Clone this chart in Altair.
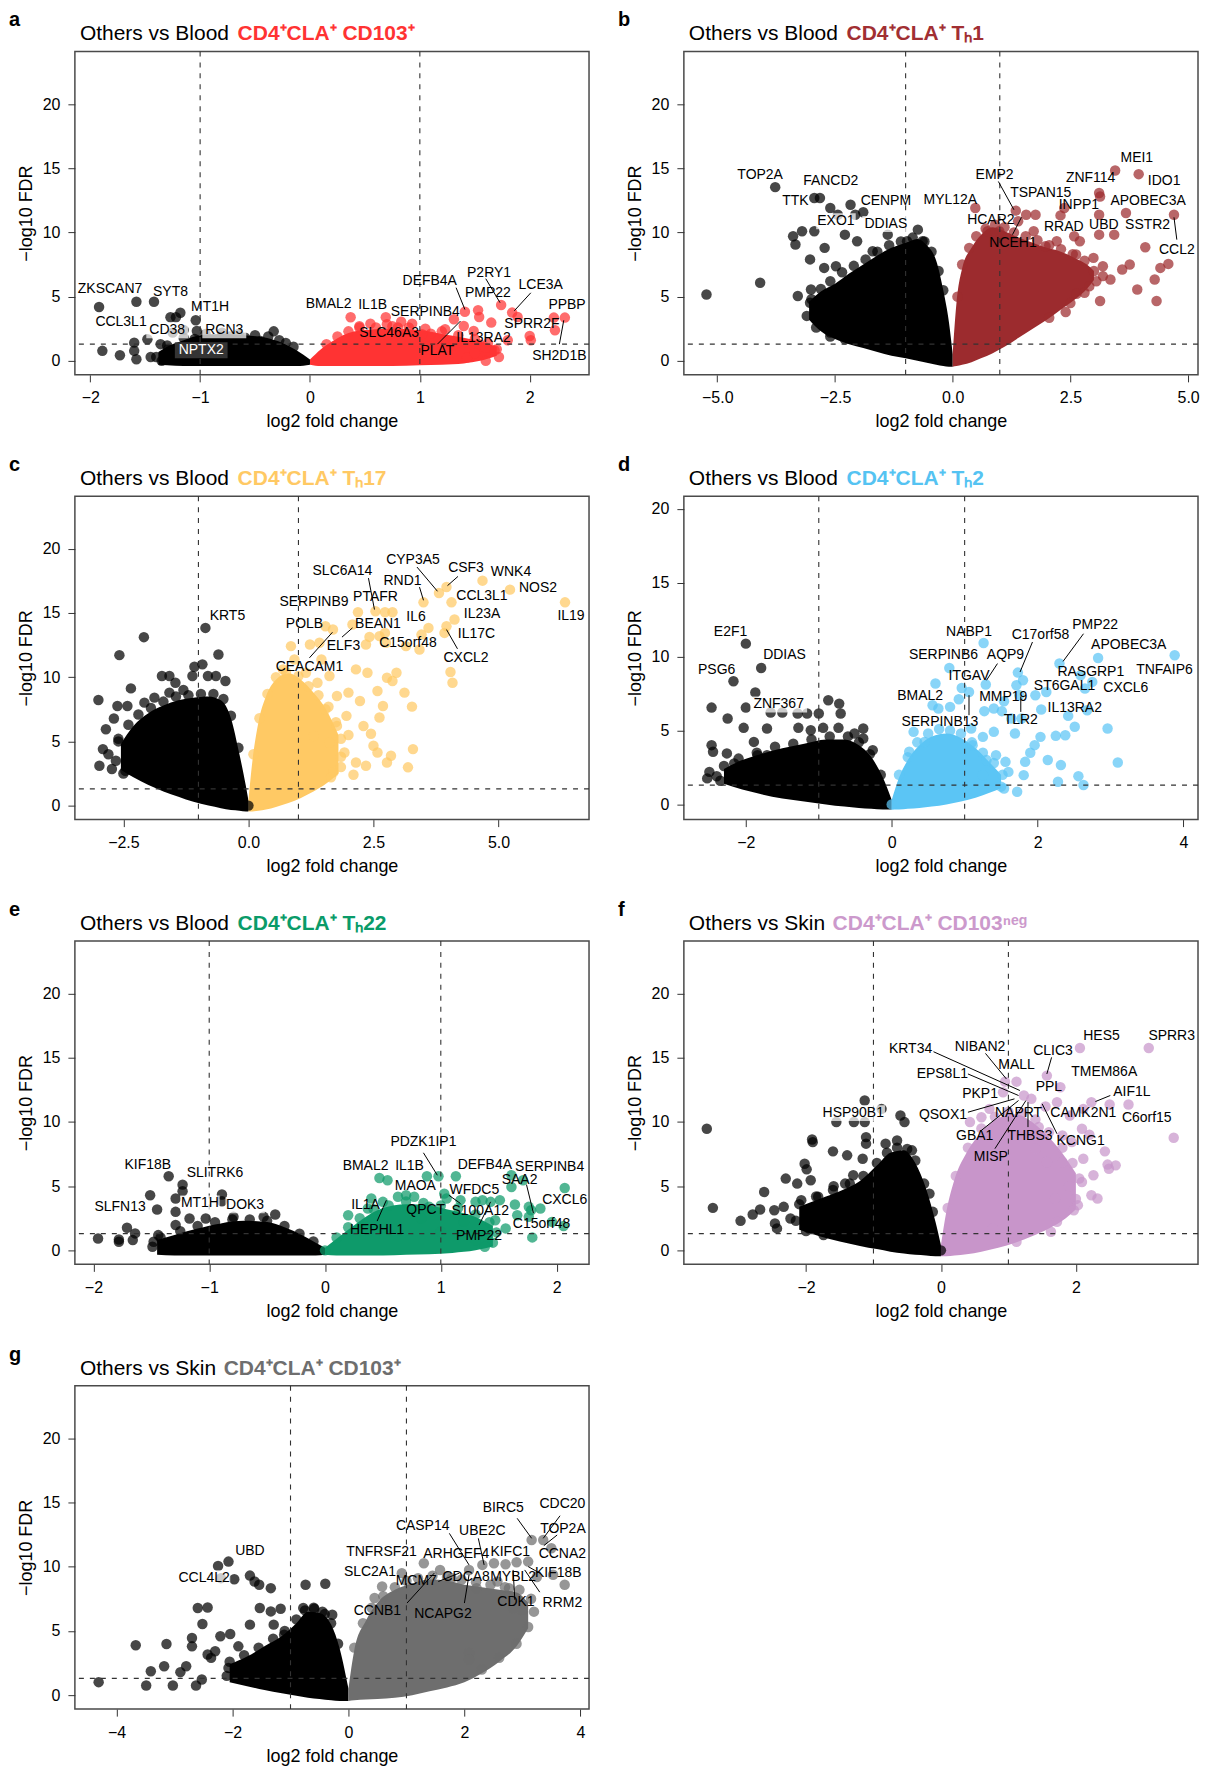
import altair as alt
import pandas as pd

FONT = "Liberation Sans"

# ---------------- panel a ----------------
A_NEG_CORE = [(-1.38, -0.3, 0.7), (-1.3, -0.35, 1.1), (-1.15, -0.4, 1.6), (-1.0, -0.4, 2.0), (-0.8, -0.4, 2.1),
              (-0.6, -0.4, 2.0), (-0.4, -0.4, 1.8), (-0.25, -0.4, 1.4), (-0.12, -0.4, 0.8), (0.0, -0.3, 0.1)]
A_POS_CORE = [(0.0, -0.3, 0.1), (0.1, -0.4, 0.9), (0.2, -0.4, 1.5), (0.3, -0.4, 2.0), (0.5, -0.4, 2.4), (0.75, -0.4, 2.5),
              (1.0, -0.35, 2.4), (1.2, -0.3, 2.1), (1.4, -0.2, 1.8), (1.55, 0.0, 1.5), (1.7, 0.4, 1.1)]
A_NEG_EDGE = [(-1.3, 1.2), (-1.15, 1.8), (-0.95, 2.1), (-0.8, 2.2), (-0.65, 2.1), (-0.5, 2.0), (-0.38, 1.9),
              (-0.28, 1.6), (-0.15, 1.1), (-1.4, 0.3), (-1.35, 0.0)]
A_POS_EDGE = [(0.15, 1.3), (0.25, 1.9), (0.35, 2.3), (0.45, 2.6), (0.6, 2.6), (0.75, 2.7), (0.9, 2.6), (1.05, 2.5),
              (1.2, 2.3), (1.35, 2.0), (1.5, 1.7), (1.62, 1.4), (1.7, 0.9), (1.72, 0.3), (1.6, 0.0)]
A_NEG_PTS = [(-1.92, 4.2), (-1.58, 4.6), (-1.42, 4.6), (-1.89, 0.78), (-1.73, 0.44), (-1.60, 1.42), (-1.48, 1.68),
             (-1.60, 0.78), (-1.58, 0.13), (-1.45, 0.3), (-1.36, 1.3), (-1.27, 3.4), (-1.22, 3.4), (-1.18, 3.75),
             (-1.04, 3.16), (-1.03, 2.33), (-1.05, 1.7), (-0.33, 2.3), (-0.22, 1.4), (-0.73, 1.9), (-0.59, 1.8),
             (-0.45, 1.55), (-1.18, 0.5), (-1.29, 0.9), (-1.12, 0.8), (-1.25, 2.2), (-1.15, 2.4)]
A_POS_PTS = [(0.37, 3.4), (0.69, 3.4), (0.83, 3.05), (0.93, 2.9), (0.70, 2.85), (1.31, 3.24), (1.41, 3.83), (1.53, 3.94),
             (1.54, 3.42), (1.65, 2.98), (1.74, 4.35), (1.84, 3.76), (1.89, 3.42), (2.22, 3.37), (2.32, 3.37),
             (2.23, 2.38), (2.0, 1.94), (2.01, 1.6), (1.68, 0.83), (1.54, 1.3), (1.23, 2.46), (1.10, 2.12),
             (1.43, 0.26), (1.6, 1.04), (1.49, 2.33), (1.40, 2.72), (1.02, 2.07), (0.55, 2.9), (0.45, 2.7),
             (0.8, 2.6), (1.3, 1.2), (1.8, 1.6), (1.5, 0.6)]
A_LABELS = [("ZKSCAN7", -1.82, 5.57), ("SYT8", -1.27, 5.36), ("MT1H", -0.91, 4.2), ("CCL3L1", -1.72, 3.03),
            ("CD38", -1.30, 2.38), ("RCN3", -0.78, 2.38), ("BMAL2", 0.17, 4.4), ("IL1B", 0.57, 4.35),
            ("SERPINB4", 1.05, 3.83), ("DEFB4A", 1.09, 6.2), ("P2RY1", 1.63, 6.87), ("PMP22", 1.62, 5.26),
            ("LCE3A", 2.10, 5.88), ("PPBP", 2.34, 4.35), ("SPRR2F", 2.02, 2.85), ("SLC46A3", 0.72, 2.2),
            ("IL13RA2", 1.58, 1.81), ("PLAT", 1.16, 0.78), ("SH2D1B", 2.27, 0.39)]
A_WHITE = [("NPTX2", -0.99, 0.83)]
A_BOXES = [(-1.49, -1.11, 1.76, 3.0), (-0.98, -0.58, 1.76, 3.0)]
A_DARK_BOXES = [(-1.23, -0.75, 0.2, 1.45)]
A_LINES = [(1.33, 5.7, 1.41, 4.0), (1.60, 6.4, 1.73, 4.53), (2.01, 5.3, 1.86, 3.9), (2.27, 1.3, 2.31, 3.16),
           (1.16, 1.3, 1.37, 3.1)]

# ---------------- panel b ----------------
B_NEG_CORE = [(-3.05, 3.2, 4.6), (-2.8, 2.3, 5.4), (-2.5, 1.7, 6.0), (-2.2, 1.3, 6.8), (-1.9, 1.0, 7.5), (-1.6, 0.7, 8.2),
              (-1.3, 0.4, 8.8), (-1.0, 0.2, 9.2), (-0.75, 0.0, 9.5), (-0.55, -0.15, 9.0), (-0.35, -0.3, 7.8),
              (-0.2, -0.4, 5.5), (-0.08, -0.45, 3.0), (0.0, -0.45, 0.5)]
B_POS_CORE = [(0.0, -0.45, 0.5), (0.08, -0.4, 4.5), (0.2, -0.3, 7.2), (0.4, -0.1, 8.8), (0.6, 0.2, 9.8), (0.85, 0.6, 10.4),
              (1.1, 1.1, 10.1), (1.4, 1.8, 9.6), (1.7, 2.5, 9.2), (2.0, 3.2, 8.8), (2.3, 4.0, 8.5), (2.6, 4.8, 8.0),
              (2.85, 5.6, 7.5), (3.0, 6.3, 7.0)]
B_NEG_EDGE = [(-3.0, 4.8), (-2.8, 5.6), (-2.6, 6.2), (-2.35, 6.9), (-2.1, 7.4), (-1.85, 7.9), (-1.6, 8.5), (-1.35, 9.0),
              (-1.1, 9.3), (-0.85, 9.6), (-0.6, 9.3), (-0.45, 8.5), (-0.3, 7.0), (-0.2, 5.5), (-3.1, 3.5),
              (-2.9, 2.6), (-2.6, 1.9)]
B_POS_EDGE = [(0.1, 5.0), (0.2, 7.5), (0.35, 8.8), (0.5, 9.7), (0.7, 10.3), (0.9, 10.6), (1.1, 10.4), (1.3, 10.0),
              (1.55, 9.7), (1.8, 9.4), (2.05, 9.0), (2.3, 8.7), (2.55, 8.3), (2.8, 7.8), (3.0, 7.0), (3.05, 6.2),
              (2.8, 5.3), (2.5, 4.5)]
B_NEG_PTS = [(-5.23, 5.17), (-4.09, 6.08), (-3.77, 13.53), (-2.94, 12.68), (-2.82, 12.68), (-2.60, 11.9), (-2.17, 12.16),
             (-1.90, 11.57), (-3.39, 9.7), (-3.34, 9.06), (-3.20, 10.1), (-2.94, 10.1), (-3.03, 7.9), (-2.72, 8.8),
             (-2.73, 7.24), (-3.29, 5.05), (-3.01, 5.56), (-3.03, 4.53), (-2.79, 2.98), (-2.29, 1.68), (-2.48, 7.37),
             (-2.29, 9.83), (-2.03, 9.31), (-1.70, 8.54), (-1.38, 9.83), (-0.74, 10.22), (-0.97, 9.31), (-0.64, 9.31),
             (-2.44, 11.38), (-2.07, 11.38), (-2.6, 2.2), (-2.2, 2.0)]
B_POS_PTS = [(0.48, 11.9), (1.34, 11.7), (1.56, 11.38), (1.76, 11.38), (1.72, 10.1), (1.39, 10.87), (0.74, 10.1),
             (2.29, 11.33), (2.37, 11.9), (2.58, 9.7), (2.70, 9.31), (2.21, 9.31), (3.11, 13.07), (3.13, 12.8),
             (3.11, 11.38), (3.45, 14.83), (3.95, 14.54), (3.68, 11.51), (4.70, 11.38), (4.09, 8.85), (3.43, 9.83),
             (3.11, 9.83), (2.99, 8.02), (3.19, 7.37), (3.35, 6.34), (3.60, 7.11), (3.76, 7.5), (3.92, 5.56),
             (4.29, 6.34), (4.41, 7.24), (4.58, 7.55), (4.33, 4.66), (3.13, 4.66), (2.63, 5.23), (3.19, 6.6),
             (2.05, 3.36), (1.97, 8.93), (2.62, 8.28), (0.99, 10.1), (1.15, 9.57), (2.4, 3.8), (2.9, 5.8)]
B_LABELS = [("TOP2A", -4.09, 14.44), ("FANCD2", -2.59, 14.02), ("TTK", -3.34, 12.42), ("CENPM", -1.42, 12.47),
            ("EXO1", -2.48, 10.87), ("DDIAS", -1.42, 10.66), ("MYL12A", -0.05, 12.55), ("EMP2", 0.89, 14.49),
            ("TSPAN15", 1.87, 13.07), ("ZNF114", 2.93, 14.23), ("MEI1", 3.91, 15.78), ("IDO1", 4.49, 14.02),
            ("INPP1", 2.68, 12.11), ("APOBEC3A", 4.15, 12.42), ("HCAR2", 0.81, 11.0), ("RRAD", 2.36, 10.45),
            ("UBD", 3.21, 10.56), ("SSTR2", 4.14, 10.61), ("NCEH1", 1.28, 9.18), ("CCL2", 4.76, 8.67)]
B_WHITE = []
B_BOXES = [(-2.9, -2.06, 10.25, 11.5), (-1.92, -0.92, 10.04, 11.28)]
B_DARK_BOXES = []
B_LINES = [(0.97, 13.97, 1.30, 11.77), (1.46, 11.18, 1.27, 9.83), (4.70, 11.18, 4.76, 9.44)]

# ---------------- panel c ----------------
C_NEG_CORE = [(-2.55, 2.8, 4.8), (-2.3, 2.2, 6.2), (-2.0, 1.6, 7.2), (-1.7, 1.1, 7.8), (-1.4, 0.7, 8.2), (-1.1, 0.3, 8.4),
              (-0.8, 0.0, 8.5), (-0.55, -0.2, 8.2), (-0.35, -0.35, 6.8), (-0.18, -0.4, 4.0), (-0.05, -0.45, 1.5),
              (0.0, -0.45, 0.4)]
C_POS_CORE = [(0.0, -0.45, 0.4), (0.08, -0.45, 3.5), (0.2, -0.4, 6.5), (0.35, -0.3, 8.5), (0.55, -0.1, 9.8),
              (0.8, 0.2, 10.3), (1.05, 0.6, 9.8), (1.3, 1.1, 8.8), (1.55, 1.7, 7.5), (1.8, 2.5, 5.5)]
C_NEG_EDGE = [(-2.6, 5.0), (-2.4, 6.3), (-2.2, 7.1), (-1.95, 7.6), (-1.7, 8.1), (-1.45, 8.5), (-1.2, 8.6), (-0.95, 8.7),
              (-0.7, 8.7), (-0.5, 8.3), (-0.35, 7.0), (-0.2, 4.5), (-2.65, 3.5), (-2.5, 2.5)]
C_POS_EDGE = [(0.1, 4.0), (0.22, 6.8), (0.38, 8.7), (0.55, 10.0), (0.75, 10.4), (1.0, 10.1), (1.2, 9.3), (1.4, 8.6),
              (1.6, 7.7), (1.75, 6.5), (1.85, 5.2), (1.85, 3.8), (1.7, 2.6)]
C_NEG_PTS = [(-3.0, 8.23), (-2.98, 3.1), (-2.91, 4.4), (-2.85, 5.95), (-2.73, 2.85), (-2.69, 6.78), (-2.58, 11.72),
             (-2.62, 7.76), (-2.46, 2.72), (-2.35, 9.13), (-2.42, 7.76), (-2.09, 13.12), (-2.08, 8.02), (-1.88, 8.41),
             (-1.73, 10.09), (-1.58, 10.09), (-1.46, 9.57), (-1.58, 8.80), (-1.08, 10.82), (-0.86, 13.84),
             (-0.6, 11.77), (-0.92, 11.0), (-0.81, 10.09), (-0.65, 10.09), (-0.46, 9.7), (-1.12, 10.09),
             (-2.8, 4.0), (-2.6, 5.2), (-1.3, 9.0), (0.0, 0.0)]
C_POS_PTS = [(0.85, 12.42), (1.23, 12.55), (1.42, 12.68), (1.69, 13.71), (1.54, 13.97), (2.19, 15.06), (2.08, 14.1),
             (2.54, 15.14), (2.73, 15.06), (2.88, 15.06), (2.42, 13.14), (2.62, 13.2), (2.73, 13.45), (2.75, 12.68),
             (2.35, 12.55), (3.5, 15.83), (3.81, 16.56), (3.96, 17.02), (4.06, 15.83), (4.68, 17.52), (5.23, 16.82),
             (6.33, 15.83), (3.6, 13.84), (4.12, 14.49), (3.96, 13.97), (3.92, 13.45), (3.46, 13.32), (3.42, 12.16),
             (3.15, 12.42), (4.04, 10.4), (4.08, 9.57), (2.77, 9.96), (2.96, 10.35), (2.88, 9.7), (3.12, 8.8),
             (3.27, 7.71), (2.58, 8.93), (2.38, 10.35), (2.15, 10.61), (2.69, 7.76), (2.62, 6.86), (2.23, 8.15),
             (1.96, 6.99), (1.77, 6.21), (3.29, 4.4), (3.19, 2.98), (2.85, 3.88), (2.77, 3.36), (2.58, 4.14),
             (2.5, 4.66), (2.35, 3.1), (2.15, 3.36), (1.92, 4.14), (1.62, 10.09), (1.38, 9.57), (1.15, 10.35),
             (1.46, 11.38), (0.92, 11.38), (0.69, 10.61), (1.77, 8.54), (1.54, 7.5), (1.31, 5.43), (1.62, 4.92),
             (2.0, 5.5), (2.3, 6.2), (1.85, 3.0), (2.1, 2.4), (1.65, 2.2), (2.0, 8.8), (2.45, 5.6)]
C_LABELS = [("KRT5", -0.42, 14.8), ("SERPINB9", 1.31, 15.83), ("SLC6A14", 1.88, 18.24), ("CYP3A5", 3.29, 19.1),
            ("CSF3", 4.35, 18.5), ("WNK4", 5.25, 18.19), ("RND1", 3.08, 17.52), ("NOS2", 5.79, 16.95),
            ("PTAFR", 2.54, 16.25), ("CCL3L1", 4.67, 16.35), ("IL23A", 4.67, 14.95), ("IL19", 6.45, 14.75),
            ("POLB", 1.12, 14.18), ("BEAN1", 2.59, 14.15), ("IL6", 3.35, 14.7), ("IL17C", 4.56, 13.38),
            ("C15orf48", 3.19, 12.68), ("ELF3", 1.9, 12.42), ("CXCL2", 4.35, 11.51), ("CEACAM1", 1.22, 10.82)]
C_WHITE = []
C_BOXES = []
C_DARK_BOXES = []
C_LINES = [(2.4, 17.72, 2.52, 15.27), (3.37, 18.58, 3.78, 16.69), (4.19, 17.85, 3.98, 17.13), (3.42, 17.02, 3.5, 15.99),
           (4.18, 12.21, 3.96, 13.71), (1.22, 11.51, 1.68, 13.5), (1.87, 13.12, 2.08, 13.84)]

# ---------------- panel d ----------------
D_NEG_CORE = [(-2.3, 1.4, 2.4), (-2.05, 1.0, 3.0), (-1.8, 0.7, 3.4), (-1.5, 0.4, 3.8), (-1.2, 0.2, 4.1), (-0.9, 0.0, 4.4),
              (-0.65, -0.15, 4.4), (-0.45, -0.25, 4.0), (-0.28, -0.3, 3.2), (-0.12, -0.35, 1.8), (0.0, -0.35, 0.3)]
D_POS_CORE = [(0.0, -0.35, 0.3), (0.1, -0.35, 1.8), (0.22, -0.3, 3.0), (0.38, -0.25, 4.0), (0.55, -0.15, 4.6),
              (0.75, 0.0, 4.8), (0.95, 0.2, 4.5), (1.15, 0.45, 3.8), (1.35, 0.8, 2.8), (1.5, 1.1, 2.0)]
D_NEG_EDGE = [(-2.3, 2.6), (-2.1, 3.1), (-1.85, 3.5), (-1.6, 3.9), (-1.35, 4.1), (-1.1, 4.4), (-0.85, 4.6), (-0.6, 4.6),
              (-0.45, 4.2), (-0.3, 3.4), (-0.15, 2.0), (-2.35, 1.6)]
D_POS_EDGE = [(0.1, 2.0), (0.22, 3.2), (0.35, 4.2), (0.5, 4.8), (0.65, 5.1), (0.8, 5.0), (0.95, 4.8), (1.1, 4.2),
              (1.25, 3.5), (1.4, 2.8), (1.52, 2.0), (1.5, 1.2)]
D_NEG_PTS = [(-2.0, 10.88), (-1.79, 9.23), (-2.17, 8.33), (-1.87, 7.57), (-2.0, 6.55), (-2.47, 6.55), (-2.25, 5.81),
             (-2.03, 5.18), (-1.71, 5.14), (-1.89, 4.23), (-2.47, 4.01), (-2.45, 3.56), (-2.5, 2.2), (-2.53, 1.76),
             (-1.66, 6.22), (-1.50, 6.22), (-1.29, 6.15), (-1.16, 6.15), (-1.0, 6.15), (-0.87, 7.05), (-0.72, 6.82),
             (-0.70, 6.15), (-1.28, 5.18), (-1.11, 5.02), (-0.94, 5.18), (-0.73, 5.18), (-0.51, 4.8), (-0.39, 5.14),
             (-0.39, 4.46), (-0.26, 3.67), (-2.26, 3.45), (-2.16, 2.77), (-1.71, 3.33), (-1.84, 3.33), (-2.4, 1.9)]
D_POS_PTS = [(0.0, 0.0), (1.26, 10.92), (0.79, 9.23), (1.29, 8.11), (0.60, 8.18), (0.96, 7.88), (1.06, 7.61), (0.92, 7.12),
             (0.80, 6.6), (0.64, 6.49), (0.56, 6.71), (1.73, 8.92), (1.80, 8.4), (1.71, 8.06), (1.75, 7.39),
             (1.54, 6.98), (1.40, 6.49), (1.51, 6.31), (1.27, 6.31), (1.97, 7.39), (2.12, 7.61), (2.05, 6.42),
             (1.78, 5.81), (2.30, 9.53), (2.83, 9.91), (3.88, 10.09), (2.59, 8.74), (2.75, 8.29), (2.65, 7.84),
             (2.42, 5.99), (2.68, 6.37), (2.51, 5.25), (2.96, 5.14), (3.10, 2.84), (2.56, 1.91), (2.63, 1.31),
             (2.28, 1.53), (2.32, 2.66), (2.14, 3.0), (2.38, 4.68), (2.25, 4.64), (2.04, 4.57), (1.96, 4.01),
             (1.83, 2.88), (1.81, 1.98), (1.72, 0.86), (1.56, 2.88), (1.43, 3.33), (1.40, 4.91), (1.25, 4.57),
             (1.11, 4.01), (1.69, 4.8), (1.64, 5.81), (1.25, 1.98), (1.54, 1.08), (1.09, 5.14), (0.30, 4.91),
             (0.24, 3.56), (0.45, 4.23), (1.6, 2.2), (1.9, 3.5), (1.3, 3.0)]
D_LABELS = [("E2F1", -2.21, 11.67), ("DDIAS", -1.47, 10.09), ("PSG6", -2.40, 9.08), ("ZNF367", -1.55, 6.76),
            ("NABP1", 1.06, 11.67), ("C17orf58", 2.04, 11.49), ("PMP22", 2.79, 12.16), ("SERPINB6", 0.71, 10.14),
            ("AQP9", 1.56, 10.14), ("APOBEC3A", 3.25, 10.77), ("TNFAIP6", 3.74, 9.12), ("ITGAV", 1.06, 8.69),
            ("RASGRP1", 2.73, 8.96), ("ST6GAL1", 2.37, 8.02), ("CXCL6", 3.21, 7.91), ("BMAL2", 0.39, 7.32),
            ("MMP19", 1.53, 7.25), ("IL13RA2", 2.51, 6.49), ("SERPINB13", 0.66, 5.59), ("TLR2", 1.77, 5.74)]
D_WHITE = []
D_BOXES = [(-1.94, -1.16, 6.22, 7.3)]
D_DARK_BOXES = []
D_LINES = [(1.93, 10.99, 1.76, 8.96), (2.63, 11.55, 2.35, 9.68), (1.45, 9.53, 1.30, 8.4), (1.06, 7.39, 1.06, 6.04),
           (1.77, 7.3, 1.77, 6.26)]

# ---------------- panel e ----------------
E_NEG_CORE = [(-1.45, -0.35, 0.8), (-1.3, -0.4, 1.2), (-1.1, -0.4, 1.7), (-0.9, -0.4, 2.1), (-0.7, -0.4, 2.3),
              (-0.5, -0.4, 2.2), (-0.35, -0.4, 1.8), (-0.2, -0.4, 1.2), (-0.08, -0.4, 0.6), (0.0, -0.35, 0.2)]
E_POS_CORE = [(0.0, -0.35, 0.2), (0.1, -0.4, 0.9), (0.2, -0.4, 1.6), (0.35, -0.4, 2.6), (0.5, -0.4, 3.3),
              (0.7, -0.35, 3.6), (0.9, -0.3, 3.5), (1.1, -0.2, 3.1), (1.3, 0.0, 2.6), (1.45, 0.3, 1.9)]
E_NEG_EDGE = [(-1.42, 1.0), (-1.25, 1.5), (-1.1, 1.9), (-0.95, 2.2), (-0.8, 2.4), (-0.65, 2.4), (-0.5, 2.3),
              (-0.35, 1.9), (-0.22, 1.3), (-0.1, 0.7)]
E_POS_EDGE = [(0.1, 1.0), (0.2, 1.8), (0.3, 2.5), (0.42, 3.2), (0.55, 3.5), (0.7, 3.8), (0.85, 3.7), (1.0, 3.5),
              (1.15, 3.3), (1.3, 2.8), (1.42, 2.2), (1.48, 1.4), (1.45, 0.6)]
E_NEG_PTS = [(-1.96, 0.93), (-1.78, 0.85), (-1.78, 0.67), (-1.71, 1.76), (-1.66, 0.8), (-1.64, 1.32), (-1.51, 4.29),
             (-1.45, 3.18), (-1.35, 5.77), (-1.23, 5.12), (-1.23, 4.61), (-1.29, 4.04), (-1.29, 3.0), (-1.29, 1.97),
             (-1.17, 2.48), (-1.03, 2.48), (-0.89, 4.35), (-0.89, 3.83), (-0.43, 2.79), (-0.53, 2.61), (-0.79, 2.61),
             (-1.48, 0.67), (-1.36, 0.16), (-1.49, 0.28), (-1.44, 1.19)]
E_POS_PTS = [(0.47, 5.64), (0.54, 5.46), (0.88, 5.77), (0.98, 5.77), (1.13, 5.77), (1.03, 4.42), (1.05, 4.04),
             (1.17, 3.91), (1.30, 3.78), (1.36, 3.91), (1.43, 3.78), (1.51, 3.91), (1.61, 5.85), (1.71, 5.46),
             (1.61, 4.94), (1.64, 3.57), (1.76, 3.39), (1.78, 3.13), (1.86, 3.26), (1.66, 2.74), (1.76, 2.61),
             (2.07, 4.86), (1.96, 2.22), (2.06, 1.89), (1.79, 1.01), (1.56, 1.71), (1.38, 0.28), (1.30, 0.8),
             (1.47, 2.35), (1.20, 2.22), (0.70, 4.29), (0.63, 4.17), (0.77, 4.17), (0.50, 3.78), (0.40, 4.04),
             (0.20, 2.74), (0.37, 3.26), (0.90, 3.39), (0.83, 2.48), (1.0, 1.45), (0.0, 0.0)]
E_LABELS = [("KIF18B", -1.53, 6.62), ("SLITRK6", -0.95, 6.03), ("SLFN13", -1.77, 3.39), ("MT1H", -1.08, 3.65),
            ("DOK3", -0.69, 3.52), ("PDZK1IP1", 0.85, 8.43), ("BMAL2", 0.35, 6.55), ("IL1B", 0.73, 6.55),
            ("DEFB4A", 1.38, 6.62), ("SERPINB4", 1.94, 6.49), ("SAA2", 1.68, 5.51), ("MAOA", 0.78, 4.99),
            ("WFDC5", 1.29, 4.73), ("CXCL6", 2.07, 3.96), ("IL1A", 0.35, 3.57), ("QPCT", 0.87, 3.13),
            ("S100A12", 1.34, 3.05), ("C15orf48", 1.87, 2.02), ("HEPHL1", 0.45, 1.58), ("PMP22", 1.33, 1.14)]
E_WHITE = []
E_BOXES = [(-1.25, -0.91, 3.03, 4.27), (-0.86, -0.52, 2.9, 4.14)]
E_DARK_BOXES = []
E_LINES = [(0.85, 7.6, 0.97, 5.85), (0.45, 2.28, 0.53, 3.91), (1.07, 4.29, 1.17, 3.65), (1.33, 1.97, 1.43, 3.78),
           (1.74, 5.12, 1.80, 2.9)]

# ---------------- panel f ----------------
F_NEG_CORE = [(-2.1, 1.6, 3.4), (-1.8, 1.1, 4.0), (-1.5, 0.7, 4.6), (-1.2, 0.35, 5.4), (-0.95, 0.1, 6.6),
              (-0.75, -0.1, 7.6), (-0.55, -0.25, 7.8), (-0.38, -0.35, 6.8), (-0.22, -0.4, 4.8), (-0.08, -0.45, 2.2),
              (0.0, -0.45, 0.4)]
F_POS_CORE = [(0.0, -0.45, 0.4), (0.08, -0.45, 3.0), (0.2, -0.4, 5.5), (0.38, -0.3, 7.6), (0.6, -0.1, 9.2),
              (0.85, 0.2, 10.3), (1.1, 0.6, 10.6), (1.35, 1.1, 10.0), (1.6, 1.7, 8.8), (1.85, 2.5, 7.2), (2.0, 3.2, 6.0)]
F_NEG_EDGE = [(-2.1, 3.6), (-1.85, 4.2), (-1.6, 4.7), (-1.35, 5.2), (-1.15, 5.8), (-0.95, 6.8), (-0.8, 7.6), (-0.65, 8.0),
              (-0.5, 7.9), (-0.38, 7.0), (-0.25, 5.2), (-0.12, 3.0), (-2.15, 2.3), (-2.0, 1.5)]
F_POS_EDGE = [(0.1, 3.3), (0.22, 5.8), (0.4, 8.0), (0.6, 9.5), (0.8, 10.4), (1.0, 10.8), (1.2, 10.7), (1.4, 10.2),
              (1.6, 9.2), (1.8, 8.0), (1.95, 6.8), (2.05, 5.6), (2.0, 4.0)]
F_NEG_PTS = [(-3.47, 9.47), (-3.38, 3.31), (-2.97, 2.3), (-2.79, 2.79), (-2.68, 3.18), (-2.62, 4.55), (-2.46, 2.1),
             (-2.43, 1.71), (-2.47, 3.13), (-2.33, 3.39), (-2.30, 5.59), (-2.23, 2.48), (-2.13, 5.2), (-2.02, 6.75),
             (-1.99, 6.31), (-1.93, 5.46), (-1.91, 8.64), (-1.90, 8.43), (-2.07, 3.91), (-1.82, 4.17), (-1.74, 1.19),
             (-1.96, 1.71), (-1.60, 7.71), (-1.59, 4.99), (-1.55, 9.99), (-1.42, 5.2), (-1.39, 7.4), (-1.30, 5.85),
             (-1.29, 9.99), (-1.13, 11.67), (-1.13, 9.99), (-1.11, 8.82), (-1.11, 8.31), (-1.16, 7.14), (-0.88, 11.02),
             (-0.82, 8.31), (-0.65, 8.56), (-0.60, 10.5), (-0.54, 9.99), (-0.43, 7.79), (-0.17, 4.42), (0.0, 0.0)]
F_POS_PTS = [(2.06, 15.76), (3.08, 15.76), (1.57, 13.61), (1.77, 12.7), (0.95, 13.14), (1.12, 13.14), (0.92, 12.32),
             (1.23, 12.06), (1.34, 11.8), (1.72, 11.54), (2.23, 11.54), (2.50, 11.36), (2.78, 11.36), (3.45, 8.77),
             (2.11, 11.02), (1.91, 10.5), (2.09, 9.47), (1.80, 8.95), (1.94, 8.43), (2.11, 7.14), (2.43, 7.71),
             (2.59, 6.62), (2.47, 6.68), (2.49, 6.36), (2.26, 5.85), (2.32, 4.04), (2.23, 4.29), (2.09, 5.33),
             (1.97, 3.13), (2.03, 3.52), (1.69, 4.04), (1.72, 2.23), (1.63, 1.45), (1.12, 0.67), (0.77, 1.71),
             (0.43, 9.99), (0.60, 10.37), (0.72, 11.02), (1.57, 6.88), (1.40, 7.92), (1.80, 6.88), (1.55, 11.2),
             (1.45, 9.6), (1.9, 5.0), (2.2, 9.0)]
F_LABELS = [("HES5", 2.38, 16.71), ("SPRR3", 3.42, 16.71), ("KRT34", -0.45, 15.68), ("NIBAN2", 0.58, 15.86),
            ("CLIC3", 1.66, 15.55), ("MALL", 1.12, 14.44), ("TMEM86A", 2.42, 13.92), ("EPS8L1", 0.02, 13.74),
            ("PPL", 1.60, 12.71), ("AIF1L", 2.83, 12.32), ("PKP1", 0.58, 12.14), ("HSP90B1", -1.30, 10.69),
            ("QSOX1", 0.03, 10.56), ("NAPRT", 1.15, 10.69), ("CAMK2N1", 2.11, 10.69), ("C6orf15", 3.05, 10.3),
            ("GBA1", 0.5, 8.9), ("THBS3", 1.32, 8.9), ("KCNG1", 2.07, 8.49), ("MISP", 0.74, 7.27)]
F_WHITE = []
F_BOXES = [(-1.77, -0.83, 10.07, 11.31)]
F_DARK_BOXES = []
F_LINES = [(-0.11, 15.47, 1.17, 12.45), (0.40, 13.74, 1.15, 12.06), (0.66, 15.34, 0.97, 13.35),
           (0.40, 10.76, 1.09, 11.8), (0.58, 9.26, 1.15, 11.67), (0.80, 7.92, 1.26, 11.67), (1.29, 9.6, 1.29, 11.54),
           (1.72, 9.08, 1.50, 11.41), (1.64, 15.03, 1.57, 13.74), (2.51, 12.06, 2.29, 11.59)]

# ---------------- panel g ----------------
G_NEG_CORE = [(-2.05, 1.0, 2.4), (-1.75, 0.7, 3.0), (-1.45, 0.4, 3.8), (-1.15, 0.15, 4.6), (-0.9, -0.05, 5.6),
              (-0.7, -0.2, 6.5), (-0.5, -0.3, 6.4), (-0.3, -0.4, 5.5), (-0.15, -0.45, 3.6), (0.0, -0.45, 0.5)]
G_POS_CORE = [(0.0, -0.45, 0.5), (0.1, -0.4, 3.5), (0.3, -0.35, 5.8), (0.5, -0.3, 7.2), (0.8, -0.2, 8.2), (1.1, 0.0, 8.7),
              (1.4, 0.3, 9.0), (1.7, 0.6, 8.9), (2.0, 1.0, 8.6), (2.3, 1.7, 8.4), (2.6, 2.6, 8.2), (2.9, 3.8, 8.0),
              (3.1, 5.2, 7.2)]
G_NEG_EDGE = [(-2.05, 2.6), (-1.8, 3.1), (-1.55, 3.7), (-1.3, 4.4), (-1.1, 5.0), (-0.9, 5.9), (-0.75, 6.6), (-0.6, 6.8),
              (-0.45, 6.5), (-0.3, 5.6), (-0.18, 4.0), (-2.1, 1.5)]
G_POS_EDGE = [(0.1, 3.7), (0.25, 5.6), (0.4, 6.8), (0.6, 7.7), (0.8, 8.4), (1.0, 8.9), (1.2, 9.1), (1.45, 9.3), (1.7, 9.2),
              (1.95, 9.0), (2.2, 8.8), (2.45, 8.6), (2.7, 8.4), (2.95, 8.2), (3.15, 7.5), (3.2, 6.5), (3.1, 5.3),
              (2.9, 4.0), (2.6, 2.9), (2.3, 2.0)]
G_NEG_PTS = [(-4.31, 1.01), (-3.67, 3.88), (-3.49, 0.75), (-3.41, 1.86), (-3.18, 2.25), (-3.14, 3.98), (-3.03, 0.75),
             (-2.90, 1.79), (-2.80, 2.25), (-2.70, 4.45), (-2.70, 3.8), (-2.63, 0.75), (-2.60, 6.78), (-2.52, 5.54),
             (-2.43, 6.83), (-2.43, 3.16), (-2.53, 1.22), (-2.37, 2.9), (-2.30, 3.42), (-2.25, 10.06), (-2.21, 4.58),
             (-2.07, 10.4), (-2.20, 9.11), (-1.97, 9.03), (-2.04, 4.76), (-2.07, 2.12), (-1.90, 3.8), (-1.70, 9.31),
             (-1.62, 8.85), (-1.54, 8.59), (-1.34, 8.33), (-1.70, 5.49), (-1.53, 6.78), (-1.34, 6.52), (-1.17, 6.73),
             (-1.29, 5.49), (-1.11, 4.71), (-0.74, 8.59), (-0.40, 8.67), (-0.78, 6.78), (-0.59, 6.73), (-0.41, 6.31),
             (-0.28, 6.26), (-1.41, 1.35)]
G_POS_PTS = [(3.16, 12.08), (3.36, 12.08), (3.50, 11.44), (1.30, 10.27), (1.58, 9.75), (2.08, 9.75), (2.31, 10.14),
             (2.51, 10.27), (2.71, 10.19), (2.90, 10.35), (3.10, 10.4), (3.53, 9.37), (3.73, 8.59), (2.57, 8.85),
             (2.77, 8.33), (2.84, 7.43), (2.84, 6.78), (0.92, 9.5), (0.58, 8.46), (0.45, 7.56), (1.78, 9.11),
             (2.21, 8.33), (2.08, 3.29), (2.08, 2.77), (3.25, 9.2), (3.0, 6.6)]
G_LABELS = [("UBD", -1.70, 11.23), ("CCL4L2", -2.49, 9.11), ("BIRC5", 2.67, 14.59), ("CDC20", 3.69, 14.85),
            ("CASP14", 1.28, 13.2), ("UBE2C", 2.31, 12.78), ("TOP2A", 3.70, 12.94), ("TNFRSF21", 0.57, 11.18),
            ("ARHGEF4", 1.86, 10.97), ("KIFC1", 2.79, 11.18), ("CCNA2", 3.69, 10.97), ("SLC2A1", 0.37, 9.57),
            ("MYBL2", 2.84, 9.16), ("KIF18B", 3.62, 9.5), ("MCM7", 1.17, 8.85), ("CDCA8", 2.03, 9.16),
            ("CDK1", 2.89, 7.22), ("RRM2", 3.69, 7.17), ("CCNB1", 0.5, 6.52), ("NCAPG2", 1.63, 6.31)]
G_WHITE = []
G_BOXES = [(-2.94, -2.04, 8.49, 9.73)]
G_DARK_BOXES = []
G_LINES = [(2.91, 13.77, 3.16, 12.21), (3.65, 13.97, 3.36, 12.21), (3.60, 12.47, 3.37, 11.64), (1.74, 12.6, 2.08, 10.14),
           (2.24, 12.21, 2.34, 10.14), (1.55, 8.85, 1.91, 9.5), (1.01, 7.17, 1.48, 9.5), (2.00, 7.17, 2.08, 9.37),
           (2.84, 9.75, 2.87, 7.43), (3.10, 10.01, 3.30, 9.5), (3.04, 9.75, 3.30, 8.02)]

Y_TICKS = [0, 5, 10, 15, 20]


def spec(letter, pre, xdom, ydom, xticks, xfmt, color, tcolor, tb, tc):
    g = globals()
    return dict(letter=letter, core=(g[pre + "_NEG_CORE"], g[pre + "_POS_CORE"]),
                edge=(g[pre + "_NEG_EDGE"], g[pre + "_POS_EDGE"]), pts=(g[pre + "_NEG_PTS"], g[pre + "_POS_PTS"]),
                labels=g[pre + "_LABELS"], white=g[pre + "_WHITE"], boxes=g[pre + "_BOXES"],
                dark=g[pre + "_DARK_BOXES"], lines=g[pre + "_LINES"], xdom=xdom, ydom=ydom, xticks=xticks,
                xfmt=xfmt, color=color, tcolor=tcolor, tb=tb, tc=tc)


PANELS = [
    spec("a", "A", [-2.14, 2.54], [-1.09, 24.1], [-2, -1, 0, 1, 2], "d", "#FF3333", "#FF3333",
         "Others vs Blood", "CD4⁺CLA⁺ CD103⁺"),
    spec("b", "B", [-5.71, 5.21], [-1.09, 24.1], [-5, -2.5, 0, 2.5, 5], ".1f", "#9C2B2E", "#A12F33",
         "Others vs Blood", "CD4⁺CLA⁺ Tₕ1"),
    spec("c", "C", [-3.47, 6.81], [-1.09, 24.1], [-2.5, 0, 2.5, 5], ".1f", "#FFC964", "#FFC964",
         "Others vs Blood", "CD4⁺CLA⁺ Tₕ17"),
    spec("d", "D", [-2.85, 4.2], [-1.03, 20.86], [-2, 0, 2, 4], "d", "#5BC5F5", "#55C3F2",
         "Others vs Blood", "CD4⁺CLA⁺ Tₕ2"),
    spec("e", "E", [-2.16, 2.28], [-1.09, 24.1], [-2, -1, 0, 1, 2], "d", "#0E9A6A", "#0A9B69",
         "Others vs Blood", "CD4⁺CLA⁺ Tₕ22"),
    spec("f", "F", [-3.81, 3.81], [-1.09, 24.1], [-2, 0, 2], "d", "#C895CA", "#CC99CC",
         "Others vs Skin", "CD4⁺CLA⁺ CD103ⁿᵉᵍ"),
    spec("g", "G", [-4.72, 4.15], [-1.09, 24.1], [-4, -2, 0, 2, 4], "d", "#6E6E6E", "#6E6E6E",
         "Others vs Skin", "CD4⁺CLA⁺ CD103⁺"),
]

W, H = 515, 324


def panel(p):
    xs = alt.Scale(domain=p["xdom"], nice=False, zero=False)
    ys = alt.Scale(domain=p["ydom"], nice=False, zero=False)
    xa = alt.Axis(values=p["xticks"], format=p["xfmt"], title="log2 fold change")
    ya = alt.Axis(values=Y_TICKS, format="d", title="−log10 FDR")

    def X(f):
        return alt.X(f, type="quantitative", scale=xs, axis=xa)

    def Y(f):
        return alt.Y(f, type="quantitative", scale=ys, axis=ya)

    layers = []
    neg_core, pos_core = p["core"]
    for core, col in ((neg_core, "#000000"), (pos_core, p["color"])):
        df = pd.DataFrame(core, columns=["x", "lo", "hi"])
        layers.append(alt.Chart(df).mark_area(color=col, interpolate="monotone").encode(
            x=X("x"), y=Y("lo"), y2=alt.Y2("hi")))
    neg_edge, pos_edge = p["edge"]
    neg_pts, pos_pts = p["pts"]
    for pts, col in ((neg_edge + neg_pts, "#000000"), (pos_edge + pos_pts, p["color"])):
        df = pd.DataFrame(pts, columns=["x", "y"])
        layers.append(alt.Chart(df).mark_circle(size=110, opacity=0.72, color=col).encode(x=X("x"), y=Y("y")))
    # threshold lines
    layers.append(alt.Chart(pd.DataFrame({"v": [-1, 1]})).mark_rule(
        color="#333333", strokeWidth=1.1, strokeDash=[5, 6]).encode(x=X("v")))
    layers.append(alt.Chart(pd.DataFrame({"h": [1.301]})).mark_rule(
        color="#333333", strokeWidth=1.1, strokeDash=[5, 6]).encode(y=Y("h")))
    # label boxes (semi-transparent white / dark)
    for boxes, col, op in ((p["boxes"], "#FFFFFF", 0.72), (p["dark"], "#3A3A3A", 0.9)):
        if boxes:
            df = pd.DataFrame(boxes, columns=["x1", "x2", "y1", "y2"])
            layers.append(alt.Chart(df).mark_rect(color=col, opacity=op).encode(
                x=X("x1"), x2=alt.X2("x2"), y=Y("y1"), y2=alt.Y2("y2")))
    # leader lines
    if p["lines"]:
        df = pd.DataFrame(p["lines"], columns=["x1", "y1", "x2", "y2"])
        layers.append(alt.Chart(df).mark_rule(color="#000000", strokeWidth=1).encode(
            x=X("x1"), y=Y("y1"), x2=alt.X2("x2"), y2=alt.Y2("y2")))
    # gene labels
    df = pd.DataFrame(p["labels"], columns=["t", "x", "y"])
    layers.append(alt.Chart(df).mark_text(font=FONT, fontSize=14, color="#000000", baseline="middle").encode(
        x=X("x"), y=Y("y"), text="t:N"))
    if p["white"]:
        df = pd.DataFrame(p["white"], columns=["t", "x", "y"])
        layers.append(alt.Chart(df).mark_text(font=FONT, fontSize=14, color="#FFFFFF", baseline="middle").encode(
            x=X("x"), y=Y("y"), text="t:N"))
    # panel letter and title
    one = pd.DataFrame({"k": [0]})
    layers.append(alt.Chart(one).mark_text(font=FONT, fontSize=20, fontWeight="bold", align="left",
                                           baseline="alphabetic", color="#000000").encode(
        x=alt.value(-66), y=alt.value(-25), text=alt.value(p["letter"])))
    layers.append(alt.Chart(one).mark_text(font=FONT, fontSize=21, align="left",
                                           baseline="alphabetic", color="#000000").encode(
        x=alt.value(5), y=alt.value(-11), text=alt.value(p["tb"])))
    off = 163 if "Blood" in p["tb"] else 149
    layers.append(alt.Chart(one).mark_text(font=FONT, fontSize=21, fontWeight="bold", align="left",
                                           baseline="alphabetic", color=p["tcolor"]).encode(
        x=alt.value(off), y=alt.value(-11), text=alt.value(p["tc"])))
    return alt.layer(*layers).properties(width=W, height=H)


charts = [panel(p) for p in PANELS]
rows = [
    alt.hconcat(charts[0], charts[1], spacing=26),
    alt.hconcat(charts[2], charts[3], spacing=26),
    alt.hconcat(charts[4], charts[5], spacing=26),
    charts[6],
]
chart = alt.vconcat(*rows, spacing=22.5).properties(padding=0).configure_view(
    stroke="#4a4a4a", strokeWidth=1.5
).configure_axis(
    domain=False, grid=False, tickColor="#333333", tickSize=7, tickWidth=1,
    labelFont=FONT, labelFontSize=16, labelColor="#000000", labelPadding=8,
    titleFont=FONT, titleFontSize=18, titleFontWeight="normal", titleColor="#000000", titlePadding=7
).configure_axisY(titlePadding=7)

chart.save("out.html", embed_options={"renderer": "svg", "actions": False})
